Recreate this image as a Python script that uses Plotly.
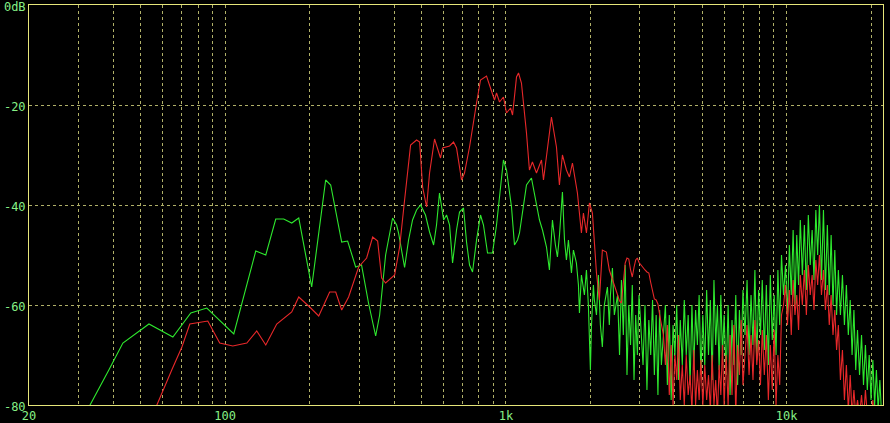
import math
import plotly.graph_objects as go

# ---------------- data ----------------
green_freq_lo = [
    28, 33.0, 38.5, 43.2, 53.5, 65.1, 75.4, 86.0, 107.3, 128.5,
    139.5, 151.4, 161.6, 172.6, 182.8, 203.3, 228, 237.6, 260, 273,
    291.6, 306, 324, 343.6, 355, 372.8, 394.8, 408, 414.6, 435.6,
    450, 465, 480.6, 496.6, 517, 534.6, 552.6, 566, 580, 600,
    614.6, 630, 645.6, 667, 683.6, 706.4, 724, 742, 760.6, 786,
    812, 832, 860, 895.8, 926, 949, 980, 1005, 1030, 1047,
    1073, 1100, 1118, 1155, 1184, 1233, 1274, 1317, 1350, 1395,
    1429, 1465, 1501, 1526, 1552, 1590, 1617, 1643, 1670, 1712,
    1740, 1783, 1813, 1828, 1858, 1904, 1936, 1967, 2000, 2017,
    2050, 2066, 2102, 2136, 2171, 2206, 2242, 2300, 2336, 2357,
    2396, 2434,
]
green_db_lo = [
    -90, -80, -73, -67.6, -63.8, -66.4, -61.6, -60.6, -65.8, -49.2,
    -50, -42.8, -42.8, -43.6, -42.6, -56.4, -35, -36, -47.4, -47.2,
    -52.4, -52, -59.6, -66.2, -62, -50, -42.6, -44, -45.6, -52.5,
    -47, -43, -41, -40, -42, -45.4, -48, -44, -37.6, -43,
    -42, -44, -51.6, -45, -41.4, -40.6, -47.4, -52, -53.4, -47,
    -42, -44, -49.6, -49.6, -44, -38, -31, -33, -37, -40.4,
    -48, -47, -45.6, -40, -36, -34.6, -39, -43, -45, -48.4,
    -53, -43, -48, -50.4, -46, -37.4, -47, -51, -47, -53.6,
    -49, -51.6, -56, -61.6, -54, -58, -53, -60, -73, -64.4,
    -56, -59, -62, -54, -64, -68.4, -60, -56.4, -64, -58,
    -52.6, -62,
]

red_freq_lo = [
    50, 57.1, 64.5, 70.1, 74.8, 86.7, 95.6, 106.4, 119.4, 129.5,
    139.5, 152.6, 172.6, 182.8, 200, 215.4, 235.6, 247.6, 260, 275.2,
    298.8, 319, 335.2, 349.2, 360.8, 372.8, 401.4, 418.2, 435.6, 457.6,
    480.6, 492.8, 505, 521.8, 534.6, 557, 585, 594.8, 630, 650.8,
    667, 695, 712, 742, 786, 812, 853, 881, 910.6, 926,
    949, 980, 1005, 1039, 1056, 1091, 1109, 1136, 1184, 1213,
    1243, 1285, 1339, 1361, 1453, 1514, 1551, 1590, 1643, 1684,
    1726, 1798, 1858, 1889, 1936, 1984, 2033, 2102, 2153, 2206,
    2280, 2336, 2396,
]
red_db_lo = [
    -90, -80, -73, -68.4, -63.8, -63.2, -67.6, -68.2, -67.6, -65.2,
    -68, -63.8, -61.4, -58.4, -60.4, -62.2, -57.4, -57.4, -61, -58.4,
    -52.4, -50.6, -46.4, -47.2, -54.6, -55.6, -54, -48.4, -39, -28,
    -27, -27.4, -36.4, -40.4, -33.6, -26.8, -30.6, -28.6, -28.2, -27.4,
    -28.6, -35, -33.6, -28.4, -19.6, -15, -14.2, -16.4, -19, -17.6,
    -19.4, -18.4, -21.6, -20.6, -22, -14.4, -13.6, -15.6, -25.6, -33,
    -31.4, -33.6, -31, -35, -22.4, -28.4, -36, -30, -33, -34.4,
    -31.6, -37.6, -45.6, -41.6, -45.6, -39.6, -41.6, -53.6, -59, -49,
    -49.4, -53, -55,
]

hf_freq = [
    2500, 2540, 2580, 2620, 2660, 2700, 2740, 2780, 2820, 2860, 2900, 2940, 2980,
    3030, 3080, 3130, 3180, 3230, 3280, 3330, 3380, 3430, 3480, 3530, 3580,
    3640, 3700, 3760, 3820, 3880, 3940, 4000, 4060, 4120, 4180,
    4250, 4320, 4390, 4460, 4530, 4600, 4670, 4740, 4810, 4880, 4950,
    5030, 5110, 5190, 5270, 5350, 5430, 5510, 5590, 5670, 5750, 5830, 5910, 5990,
    6090, 6190, 6290, 6390, 6490, 6590, 6690, 6790, 6890, 6990,
    7110, 7230, 7350, 7470, 7590, 7710, 7830, 7950, 8070, 8190,
    8330, 8470, 8610, 8750, 8890, 9030, 9170, 9310, 9450, 9590,
    9750, 9910, 10070, 10230, 10390, 10550, 10710, 10870, 11030, 11190,
    11380, 11570, 11760, 11950, 12140, 12330, 12520, 12710, 12900, 13090,
    13310, 13530, 13750, 13970, 14190, 14410, 14630, 14850, 15070, 15290,
    15550, 15810, 16070, 16330, 16590, 16850, 17110, 17370, 17630, 17890,
    18190, 18490, 18790, 19090, 19390, 19690, 19990, 20290, 20590, 20890, 21190, 21490, 21790, 22050,
]
green_db_hf = [
    -58, -70, -55, -66, -52, -74, -60, -68, -56, -75, -62, -70, -58,
    -64, -72, -60, -77, -63, -70, -59, -74, -62, -78, -61, -72,
    -66, -60, -76, -62, -79, -64, -70, -60, -75, -63,
    -72, -59, -70, -62, -76, -60, -73, -61, -68, -58, -74,
    -62, -72, -57, -70, -59, -75, -55, -68, -60, -73, -58, -70, -62,
    -74, -60, -78, -63, -72, -58, -76, -61, -70, -57,
    -66, -55, -70, -58, -68, -53, -71, -57, -66, -55,
    -69, -56, -72, -54, -67, -58, -70, -53, -64, -50,
    -58, -52, -62, -48, -58, -45, -60, -46, -56, -43,
    -54, -44, -57, -42, -52, -45, -55, -41, -50, -40,
    -55, -41, -57, -44, -58, -46, -60, -49, -62, -53,
    -62, -54, -64, -56, -66, -59, -70, -61, -73, -65,
    -74, -66, -76, -68, -77, -70, -79, -71, -80, -73, -81, -75, -82, -80,
]
red_db_hf = [
    -58.4, -59.2, -59.6, -55, -51.6, -50.6, -50.8, -53, -54.4, -52.5, -51, -50.6, -51.5,
    -52, -52.4, -53, -53.4, -53.6, -55.5, -57.5, -58.8, -59, -59.8, -62, -63.8,
    -66, -72, -64, -78, -68, -80, -70, -75, -66, -79,
    -72, -80, -70, -78, -74, -81, -69, -80, -73, -79, -71,
    -80, -72, -79, -74, -81, -70, -80, -75, -82, -72, -78, -68, -80,
    -70, -80, -66, -78, -64, -82, -68, -74, -63, -76,
    -70, -64, -74, -66, -75, -63, -72, -67, -76, -65,
    -74, -66, -79, -68, -77, -65, -80, -70, -76, -62,
    -60, -56, -64, -57, -66, -55, -62, -58, -65, -54,
    -60, -53, -62, -52, -58, -54, -61, -51, -56, -50,
    -58, -53, -61, -56, -64, -58, -66, -61, -69, -64,
    -75, -69, -79, -72, -81, -74, -82, -77, -82, -79,
    -82, -78, -83, -77, -82, -80, -83, -79, -84, -80, -84, -82, -85, -85,
]

x_tick_vals = [20, 30, 40, 50, 60, 70, 80, 90,
               100, 200, 300, 400, 500, 600, 700, 800, 900,
               1000, 2000, 3000, 4000, 5000, 6000, 7000, 8000, 9000,
               10000, 20000]
x_tick_text = ["20", "", "", "", "", "", "", "",
               "100", "", "", "", "", "", "", "", "",
               "1k", "", "", "", "", "", "", "", "",
               "10k", ""]
y_tick_vals = [0, -20, -40, -60, -80]
y_tick_text = ["0dB", "-20", "-40", "-60", "-80"]

# ---------------- figure ----------------
GREEN = "#2ee82e"
RED = "#e8282a"
GRID = "#b0b068"
FRAME = "#e6e67a"
LABEL = "#86f086"

fig = go.Figure()
fig.add_trace(go.Scatter(x=green_freq_lo + hf_freq, y=green_db_lo + green_db_hf,
                         mode="lines", line=dict(color=GREEN, width=1.1),
                         showlegend=False, hoverinfo="skip"))
fig.add_trace(go.Scatter(x=red_freq_lo + hf_freq, y=red_db_lo + red_db_hf,
                         mode="lines", line=dict(color=RED, width=1.1),
                         showlegend=False, hoverinfo="skip"))

axis_font = dict(family="DejaVu Sans Mono", size=12, color=LABEL)
fig.update_layout(
    width=890, height=423,
    paper_bgcolor="black", plot_bgcolor="black",
    margin=dict(l=29, r=7, t=5, b=18, pad=0),
    xaxis=dict(type="log", range=[math.log10(20), math.log10(22050)],
               tickvals=x_tick_vals, ticktext=x_tick_text,
               showgrid=True, gridcolor=GRID, gridwidth=1, griddash="3px,3px",
               showline=True, mirror=True, linecolor=FRAME, linewidth=1,
               ticks="", zeroline=False, tickfont=axis_font, automargin=False,
               ticklabeloverflow="allow"),
    yaxis=dict(range=[-80, 0], tickvals=y_tick_vals, ticktext=y_tick_text,
               showgrid=True, gridcolor=GRID, gridwidth=1, griddash="3px,3px",
               showline=True, mirror=True, linecolor=FRAME, linewidth=1,
               ticks="", zeroline=False, tickfont=axis_font, automargin=False,
               ticklabeloverflow="allow", ticklabelshift=2),
)

fig.write_html(
    "out.html",
    config={"displayModeBar": False},
    post_script="document.body.style.margin='0';document.body.style.background='black';",
)
